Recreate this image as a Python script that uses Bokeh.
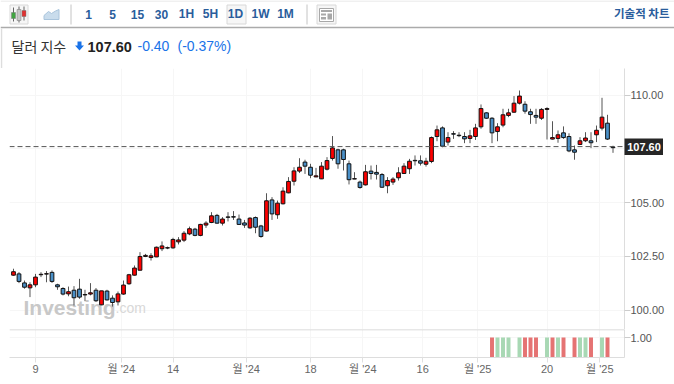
from bokeh.plotting import figure
from bokeh.layouts import column
from bokeh.models import FixedTicker, Grid, Label, Span, BoxAnnotation, Range1d, ColumnDataSource
from bokeh.core.properties import value
from bokeh.embed import file_html
from bokeh.resources import INLINE

opens = [101.62,101.68,101.26,101.03,101.17,101.64,101.67,101.75,101.17,101.00,100.75,100.92,100.97,100.70,100.74,100.92,100.24,100.88,100.55,100.38,
100.74,101.22,101.62,101.85,102.49,102.44,102.47,102.85,102.88,102.89,103.17,103.25,103.54,103.76,103.47,103.95,104.07,104.40,104.04,104.33,
104.34,104.23,104.05,103.82,104.30,103.91,103.67,105.12,104.43,104.94,105.45,105.99,106.46,106.88,106.64,106.19,106.10,106.55,107.05,107.45,
107.45,106.80,106.09,105.95,105.82,106.46,106.40,106.30,105.78,105.95,106.15,106.35,106.57,106.96,106.94,106.78,106.91,108.07,108.47,107.81,
108.20,108.13,108.07,107.98,108.07,108.52,109.17,108.92,108.30,108.60,109.05,109.20,109.62,109.57,109.22,109.05,108.92,109.33,107.95,107.98,
108.24,108.07,107.45,107.70,107.87,107.87,108.15,108.46,108.69,107.58]
highs = [101.92,101.76,101.37,101.29,101.68,101.76,101.81,101.84,101.22,101.06,101.09,101.11,101.45,100.94,101.25,101.02,100.89,100.94,100.68,100.86,
101.37,101.68,102.07,102.69,102.61,102.64,102.95,103.19,102.95,103.36,103.39,103.67,103.88,103.82,104.01,104.13,104.55,104.47,104.32,104.55,
104.60,104.44,104.19,104.32,104.35,103.96,105.43,105.25,105.09,105.71,106.18,106.64,107.06,106.99,106.80,106.61,106.88,107.11,108.09,107.50,
107.50,106.95,106.41,106.02,106.75,106.72,106.75,106.37,106.18,106.18,106.64,106.83,107.03,107.19,107.19,107.08,108.07,108.58,108.54,108.27,
108.32,108.27,108.27,108.38,108.66,109.56,109.20,108.97,108.69,109.36,109.36,109.95,110.21,109.71,109.36,109.36,109.39,109.43,108.78,108.35,
108.54,108.22,107.65,108.04,108.27,108.27,108.58,109.87,109.08,107.64]
lows = [101.59,101.25,100.99,100.60,101.06,101.53,101.29,101.26,100.94,100.68,100.64,100.21,100.52,100.41,100.68,100.37,100.22,100.44,100.16,100.21,
100.71,101.17,101.60,101.84,102.46,102.30,102.46,102.74,102.83,102.85,103.05,103.16,103.48,103.43,103.43,103.82,104.04,104.01,103.93,104.12,
104.19,103.96,103.82,103.78,103.57,103.36,103.65,104.19,104.24,104.91,105.43,105.79,106.37,106.33,106.13,106.18,106.09,106.49,106.95,106.57,
106.49,105.84,106.09,105.64,105.79,106.07,106.07,105.68,105.43,105.82,106.02,106.33,106.33,106.72,106.72,106.67,106.83,107.85,107.57,107.65,
107.96,108.04,107.76,107.76,107.91,108.43,108.89,107.76,107.85,108.50,108.97,109.17,109.56,109.13,108.66,108.66,108.84,107.93,107.93,107.78,
107.96,107.34,106.99,107.68,107.81,107.53,107.81,108.35,107.91,107.31]
closes = [101.78,101.33,101.06,101.17,101.53,101.66,101.69,101.33,101.08,100.74,100.85,100.57,100.60,100.72,100.80,100.43,100.89,100.47,100.35,100.75,
101.16,101.64,101.95,102.49,102.54,102.52,102.92,102.98,102.90,103.28,103.26,103.57,103.78,103.47,103.98,104.04,104.38,104.04,104.23,104.31,
104.32,103.98,103.95,104.27,103.85,103.42,105.08,104.47,104.97,105.53,105.98,106.47,106.64,106.69,106.27,106.24,106.69,106.95,107.54,106.80,
107.00,106.06,106.11,105.70,106.43,106.35,106.32,105.71,106.02,106.09,106.38,106.69,106.92,106.94,106.83,106.92,108.02,108.38,107.62,108.02,
108.18,108.11,107.96,108.10,108.47,109.37,108.92,108.24,108.52,109.08,109.17,109.62,109.95,109.25,109.09,108.97,109.33,109.37,108.02,108.15,
108.02,107.40,107.34,107.87,108.00,107.78,108.36,108.97,107.95,107.55]

volume_index = [87,88,89,90,92,93,94,95,97,98,99,100,102,103,104,105,107,108]
volume_values = [1.0]*18
volume_colors = ["r","g","g","g","g","r","r","r","g","r","g","r","r","g","g","r","g","r"]

x_tick_positions = [4,19.6,29,42.3,54,63.5,74.4,84.4,97,106.6]
x_tick_labels = ["9","월 '24","14","월 '24","18","월 '24","16","월 '25","20","월 '25"]
price_ticks = [100,102.5,105,110]
grid_ticks = [100,102.5,105,107.5,110]
last_price = 107.60

LATIN = "Liberation Sans, Noto Sans CJK KR"
KO = "Noto Sans CJK KR"
UP, DOWN = "#ff0000", "#4a90c8"
GRID = "#f6f6f6"
x0, x1 = -0.727, 111.09
n = len(opens)
idx = list(range(n))
colors = [UP if c >= o else DOWN for o, c in zip(opens, closes)]

# header -------------------------------------------------------------
h = figure(width=674, height=68, x_range=(0,674), y_range=(68,0), x_axis_location=None, y_axis_location=None,
           toolbar_location=None, output_backend="svg", min_border=0, outline_line_color=None)
h.grid.visible = False
h.segment([0,0],[0.5,27],[674,674],[0.5,27],line_color=["#e2e2e2","#ababab"],line_width=[1,1.5])
h.segment([1],[28],[1],[68],line_color="#dddddd",line_width=1.5)
h.quad(left=[9.5,226.5,316.5],right=[27.5,245.5,335.5],top=[4.5,4.5,4.5],bottom=[23.5,23.5,23.5],
       fill_color="#f6f6f6",line_color="#d8d8d8")
h.segment([70.5,306.5],[4,4],[70.5,306.5],[24,24],line_color="#c4c4c4")
h.segment([13,18.5,23.5],[7,6,6],[13,18.5,23.5],[21,22,20],line_color="#666666")
h.quad(left=[11,16.5,21.5],right=[15,20.5,25.5],top=[12,9,10],bottom=[18,20,16],
       fill_color=["#41a541","#c8c8c8","#e03030"],line_color="#777777",line_width=0.5)
h.patch([43.5,48,51,55,58.5,58.5,43.5],[15,11,13,10.5,9,19,19],fill_color="#c9dcec",line_color="#a9c4dc")
h.quad(left=[319],right=[333],top=[8],bottom=[21],fill_color="#ffffff",line_color="#a8a8a8")
h.quad(left=[320.5,320.5,320.5,327],right=[331.5,325.5,325.5,331.5],top=[9.5,13,16.5,13],bottom=[11.5,15,19,19],
       fill_color="#a8a8a8",line_color=None)
h.patch([77,81,81,83.5,79,74.5,77],[41,41,45,45,50,45,45],fill_color="#1a73e8",line_color=None)
btn_x = [88,112,137,161,186,210,235,260,285]
btn_t = ["1","5","15","30","1H","5H","1D","1W","1M"]
h.text(btn_x,[13.5]*9,text=btn_t,text_align="center",text_baseline="middle",text_font=value(LATIN),
       text_font_size="12px",text_font_style="bold",text_color="#2a5d9c")
h.text([669],[12.5],text=["기술적 차트"],text_align="right",text_baseline="middle",text_font=value(KO),
       text_font_size="11.5px",text_font_style="bold",text_color="#2a5d9c")
h.text([11],[45],text=["달러 지수"],text_baseline="middle",text_font=value(KO),text_font_size="14px",text_color="#333333")
h.text([87],[46],text=["107.60"],text_baseline="middle",text_font=value(LATIN),text_font_size="14.5px",
       text_font_style="bold",text_color="#222222")
h.text([137],[45.5],text=["-0.40"],text_baseline="middle",text_font=value(LATIN),text_font_size="14px",text_color="#1a73e8")
h.text([177],[45.5],text=["(-0.37%)"],text_baseline="middle",text_font=value(LATIN),text_font_size="14px",text_color="#1a73e8")

# price --------------------------------------------------------------
p = figure(width=674, height=261, x_range=Range1d(x0,x1), y_range=Range1d(99.093,111.233),
           x_axis_location=None, y_axis_location="right", toolbar_location=None, output_backend="svg",
           min_border_left=9, min_border_right=50, min_border_top=0, min_border_bottom=0, outline_line_color=None)
p.grid.visible = False
p.add_layout(Grid(dimension=0, ticker=FixedTicker(ticks=x_tick_positions), grid_line_color=GRID))
p.add_layout(Grid(dimension=1, ticker=FixedTicker(ticks=grid_ticks), grid_line_color=GRID))
ax = p.yaxis[0]
ax.ticker = FixedTicker(ticks=price_ticks)
ax.major_label_overrides = {t: f"{t:.2f}" for t in price_ticks}
ax.axis_line_color = "#dddddd"
ax.major_tick_line_color = "#cccccc"
ax.major_tick_out = 6
ax.major_tick_in = 0
ax.minor_tick_line_color = None
ax.major_label_standoff = 0
ax.major_label_text_font = LATIN
ax.major_label_text_font_size = "11px"
ax.major_label_text_color = "#555555"

p.add_layout(Label(x=14, y=22, x_units="screen", y_units="screen", text="Investing", level="underlay",
                   text_font=LATIN, text_font_size="21px", text_font_style="bold", text_color="#c8c8c8",
                   text_baseline="alphabetic"))
p.add_layout(Label(x=106, y=22, x_units="screen", y_units="screen", text=".com", level="underlay",
                   text_font=LATIN, text_font_size="14px", text_color="#d8d8d8", text_baseline="alphabetic"))
p.add_layout(Span(location=last_price, dimension="width", line_color="#555555", line_dash="5 3", line_width=1))

src = ColumnDataSource(dict(x=idx, o=opens, h=highs, l=lows, c=closes,
                            top=[max(a,b) for a,b in zip(opens,closes)], bot=[min(a,b) for a,b in zip(opens,closes)], col=colors))
p.segment("x","h","x","l",source=src,line_color="#555555",line_width=1)
p.vbar(x="x",top="top",bottom="bot",width=0.68,source=src,fill_color="col",line_color="#111111",line_width=1)

# volume -------------------------------------------------------------
v = figure(width=674, height=55, x_range=p.x_range, y_range=Range1d(0,1.4), toolbar_location=None,
           y_axis_location="right", output_backend="svg", min_border_left=9, min_border_right=50,
           min_border_top=0, min_border_bottom=27, outline_line_color=None)
v.grid.visible = False
v.add_layout(Grid(dimension=0, ticker=FixedTicker(ticks=x_tick_positions), grid_line_color=GRID))
v.add_layout(Grid(dimension=1, ticker=FixedTicker(ticks=[1]), grid_line_color=GRID))
v.add_layout(Span(location=1.4, dimension="width", line_color="#cfcfcf", line_width=1.5))
v.vbar(x=volume_index, top=volume_values, width=0.72,
       fill_color=["#e57373" if c=="r" else "#a8d8b4" for c in volume_colors], line_color=None)
va = v.yaxis[0]
va.ticker = FixedTicker(ticks=[1])
va.major_label_overrides = {1: "1.00"}
va.axis_line_color = "#dddddd"
va.major_tick_line_color = "#cccccc"
va.major_tick_out = 6
va.major_tick_in = 0
va.minor_tick_line_color = None
va.major_label_standoff = 0
va.major_label_text_font = LATIN
va.major_label_text_font_size = "11px"
va.major_label_text_color = "#555555"
xa = v.xaxis[0]
xa.ticker = FixedTicker(ticks=x_tick_positions)
xa.major_label_overrides = dict(zip(x_tick_positions, x_tick_labels))
xa.axis_line_color = "#dddddd"
xa.major_tick_line_color = "#e0e0e0"
xa.major_tick_out = 5
xa.major_tick_in = 0
xa.minor_tick_line_color = None
xa.major_label_standoff = 0
xa.major_label_text_font = LATIN
xa.major_label_text_font_size = "11px"
xa.major_label_text_color = "#666666"

for f in (p, v):
    f.add_layout(BoxAnnotation(left=0.5, right=2, top=0, bottom=400, left_units="canvas", right_units="canvas",
                               top_units="canvas", bottom_units="canvas", fill_color="#dddddd", fill_alpha=1, line_color=None))

# last-price tag, laid over the axis ---------------------------------
tag = figure(width=39, height=17, x_range=(0,39), y_range=(0,17), x_axis_location=None, y_axis_location=None,
             toolbar_location=None, output_backend="svg", min_border=0, outline_line_color=None,
             background_fill_color="#262626", border_fill_color="#262626", margin=(-246,0,0,624))
tag.grid.visible = False
tag.text([19.5],[8.5],text=[f"{last_price:.2f}"],text_align="center",text_baseline="middle",text_font=value(LATIN),
         text_font_size="11px",text_font_style="bold",text_color="#ffffff")

page = column(h, column(p, v, spacing=0), tag, spacing=0)
open("out.html", "w").write(file_html(page, INLINE))
